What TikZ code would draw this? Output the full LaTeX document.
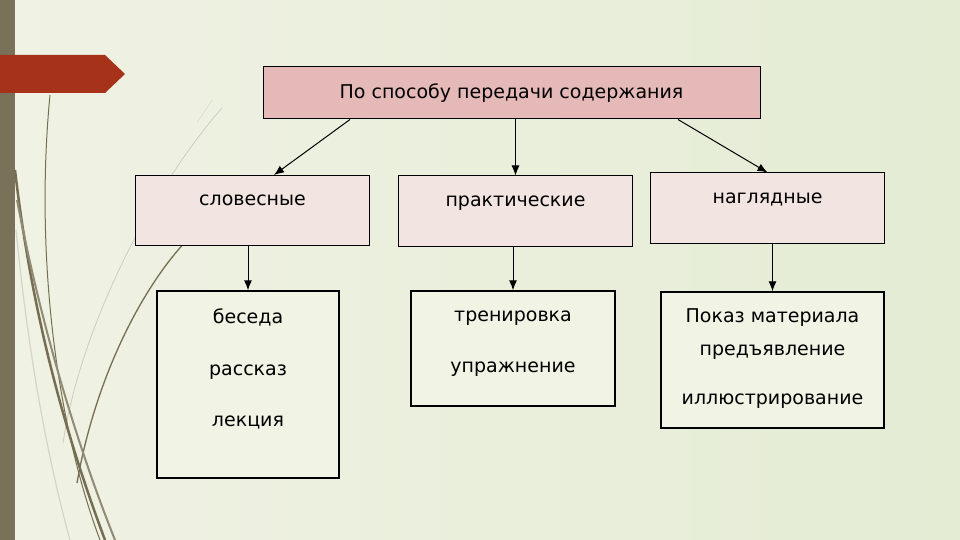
\documentclass[tikz,border=0pt]{standalone}
\usepackage{fontspec}
\setmainfont{DejaVu Sans}
\usetikzlibrary{positioning, arrows.meta, calc}
\definecolor{BarColor}{RGB}{122,114,88}
\definecolor{FlagColor}{RGB}{166,50,26}
\definecolor{HeadColor}{RGB}{229,185,184}
\definecolor{CatColor}{RGB}{242,229,225}
\definecolor{ItemColor}{RGB}{241,243,228}
\definecolor{GrassColor}{RGB}{118,110,82}

\begin{document}
\begin{tikzpicture}[x=1pt, y=-1pt,
    headbox/.style={draw, line width=1pt, fill=HeadColor, minimum width=497pt, minimum height=52pt, inner sep=0pt},
    catbox/.style={draw, line width=1pt, fill=CatColor, minimum width=234pt, inner sep=0pt, text height=30pt, text depth=40pt},
    itembox/.style={draw, line width=1.4pt, fill=ItemColor, inner sep=0pt},
    arr/.style={-{Latex[length=10pt, width=8pt]}, line width=1pt}]
  \useasboundingbox (0,0) rectangle (960,540);
  % background
  \fill[left color={rgb,255:red,240;green,242;blue,228}, right color={rgb,255:red,228;green,236;blue,212}] (0,0) rectangle (960,540);
  \fill[BarColor] (0,0) rectangle (15,540);
  \fill[FlagColor] (0,55) -- (105,55) -- (125,74) -- (105,93) -- (0,93) -- cycle;
  % grass
  \draw[GrassColor!35, line width=0.8pt] (63,443) .. controls (80,330) and (150,190) .. (222,108);
  \draw[GrassColor!30, line width=1.2pt] (70,540) .. controls (40,430) and (25,320) .. (16,230);
  \draw[GrassColor, line width=1.3pt] (77,483) .. controls (95,380) and (140,290) .. (187,240);
  \draw[GrassColor, line width=1pt] (100,540) .. controls (55,420) and (35,250) .. (50,95);
  \draw[GrassColor, line width=2.5pt] (105,540) .. controls (60,420) and (30,300) .. (15,170);
  \draw[GrassColor!80, line width=2pt] (115,540) .. controls (75,440) and (40,320) .. (17,200);
  \draw[GrassColor!25, line width=0.6pt] (197,123) -- (212,100);

  \fontsize{19}{22}\selectfont
  \node[headbox] (top) at (511.5,93) {По способу передачи содержания};
  \node[catbox] (slov) at (252.5,210.5) {словесные};
  \node[catbox] (prakt) at (515.5,211) {практические};
  \node[catbox] (nagl) at (767.5,208) {наглядные};

  \node[itembox, minimum width=182pt, text height=32pt, text depth=155pt] (bes) at (248,384.5)
    {\begin{tabular}[t]{c}беседа\\[30pt]рассказ\\[29pt]лекция\end{tabular}};
  \node[itembox, minimum width=204pt, text height=30pt, text depth=85pt] (trn) at (513,348.5)
    {\begin{tabular}[t]{c}тренировка\\[29pt]упражнение\end{tabular}};
  \node[itembox, minimum width=223pt, text height=30pt, text depth=106pt] (pok) at (772.5,360)
    {\begin{tabular}[t]{c}Показ материала\\[11pt]предъявление\\[27pt]иллюстрирование\end{tabular}};

  \draw[arr] ([xshift=-161.5pt]top.south) -- ([xshift=21.5pt]slov.north);
  \draw[arr] (top.south -| prakt.north) -- (prakt.north);
  \draw[arr] ([xshift=166.5pt]top.south) -- (nagl.north);
  \draw[arr] (slov.south -| bes.north) -- (bes.north);
  \draw[arr] (prakt.south -| trn.north) -- (trn.north);
  \draw[arr] (nagl.south -| pok.north) -- (pok.north);
\end{tikzpicture}
\end{document}
